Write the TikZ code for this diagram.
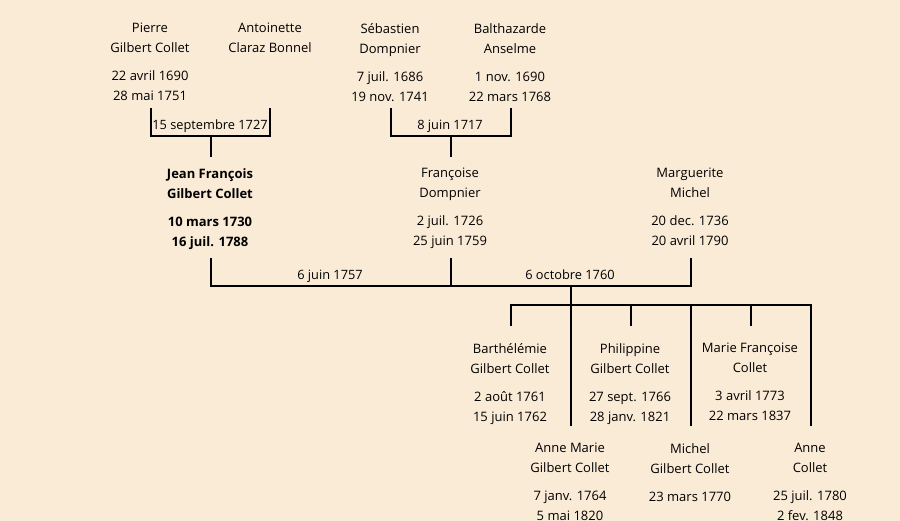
\documentclass[tikz,border=0pt]{standalone}
\usepackage{fontspec}
\setmainfont{Open Sans}
\definecolor{bg}{HTML}{FAEBD7}
\begin{document}
\begin{tikzpicture}[x=1pt,y=-1pt,
  person/.style={align=center, inner sep=0pt, anchor=north,
    font=\fontsize{13}{20}\selectfont, execute at begin node={\rule{0pt}{10pt}}},
  boldperson/.style={person, font=\fontsize{13}{20}\selectfont\bfseries},
  lbl/.style={inner sep=0pt, anchor=base, font=\fontsize{12.8}{20}\selectfont},
  link/.style={line width=2pt, line join=miter}]
\fill[bg] (0,0) rectangle (900,521);
\useasboundingbox (0,0) rectangle (900,521);
% generation 1
\node[person] (pierre) at (150,23) {Pierre\\Gilbert Collet\\[8pt]22 avril 1690\\28 mai 1751};
\node[person] (antoinette) at (270,23) {Antoinette\\Claraz Bonnel};
\node[person] (sebastien) at (390,23) {Sébastien\\Dompnier\\[8pt]7 juil. 1686\\19 nov. 1741};
\node[person] (balthazarde) at (510,23) {Balthazarde\\Anselme\\[8pt]1 nov. 1690\\22 mars 1768};
% generation 2
\node[boldperson] (jf) at (210,168) {Jean François\\Gilbert Collet\\[8pt]10 mars 1730\\16 juil. 1788};
\node[person] (francoise) at (450,168) {Françoise\\Dompnier\\[8pt]2 juil. 1726\\25 juin 1759};
\node[person] (marguerite) at (690,168) {Marguerite\\Michel\\[8pt]20 dec. 1736\\20 avril 1790};
% generation 3
\node[person] (barth) at (510,343) {Barthélémie\\Gilbert Collet\\[8pt]2 août 1761\\15 juin 1762};
\node[person] (philippine) at (630,343) {Philippine\\Gilbert Collet\\[8pt]27 sept. 1766\\28 janv. 1821};
\node[person] (mariefr) at (750,343) {Marie Françoise\\Collet\\[8pt]3 avril 1773\\22 mars 1837};
\node[person] (annemarie) at (570,443) {Anne Marie\\Gilbert Collet\\[8pt]7 janv. 1764\\5 mai 1820};
\node[person] (michel) at (690,443) {Michel\\Gilbert Collet\\[8pt]23 mars 1770};
\node[person] (anne) at (810,443) {Anne\\Collet\\[8pt]25 juil. 1780\\2 fev. 1848};
% marriage labels
\node[lbl] (w1) at (210,130) {15 septembre 1727};
\node[lbl] (w2) at (450,130) {8 juin 1717};
\node[lbl] (w3) at (330,280) {6 juin 1757};
\node[lbl] (w4) at (570,280) {6 octobre 1760};
% junction coordinates
\coordinate (pierreB) at (151,108);
\coordinate (antB) at (270,108);
\coordinate (m1) at (211,136);
\coordinate (jfT) at (211,157);
\coordinate (sebB) at (391,108);
\coordinate (balB) at (511,108);
\coordinate (m2) at (451,136);
\coordinate (frT) at (451,157);
\coordinate (jfB) at (211,258);
\coordinate (frB) at (451,258);
\coordinate (mgB) at (691,258);
\coordinate (m3) at (571,286);
\coordinate (kids) at (571,305);
\coordinate (barthT) at (511,326);
\coordinate (annemarieT) at (571,426);
\coordinate (philippineT) at (631,326);
\coordinate (michelT) at (691,426);
\coordinate (mariefrT) at (751,326);
\coordinate (anneT) at (811,426);
% connectors
\draw[link] (pierreB) -- (pierreB |- m1) -- (antB |- m1) -- (antB);
\draw[link] (m1) -- (jfT);
\draw[link] (sebB) -- (sebB |- m2) -- (balB |- m2) -- (balB);
\draw[link] (m2) -- (frT);
\draw[link] (jfB) -- (jfB |- m3) -- (mgB |- m3) -- (mgB);
\draw[link] (frB) -- (frB |- m3);
\draw[link] (m3) -- (kids);
\draw[link] (barthT) -- (barthT |- kids) -- (anneT |- kids) -- (anneT);
\draw[link] (kids) -- (annemarieT);
\draw[link] (philippineT |- kids) -- (philippineT);
\draw[link] (michelT |- kids) -- (michelT);
\draw[link] (mariefrT |- kids) -- (mariefrT);
\end{tikzpicture}
\end{document}
